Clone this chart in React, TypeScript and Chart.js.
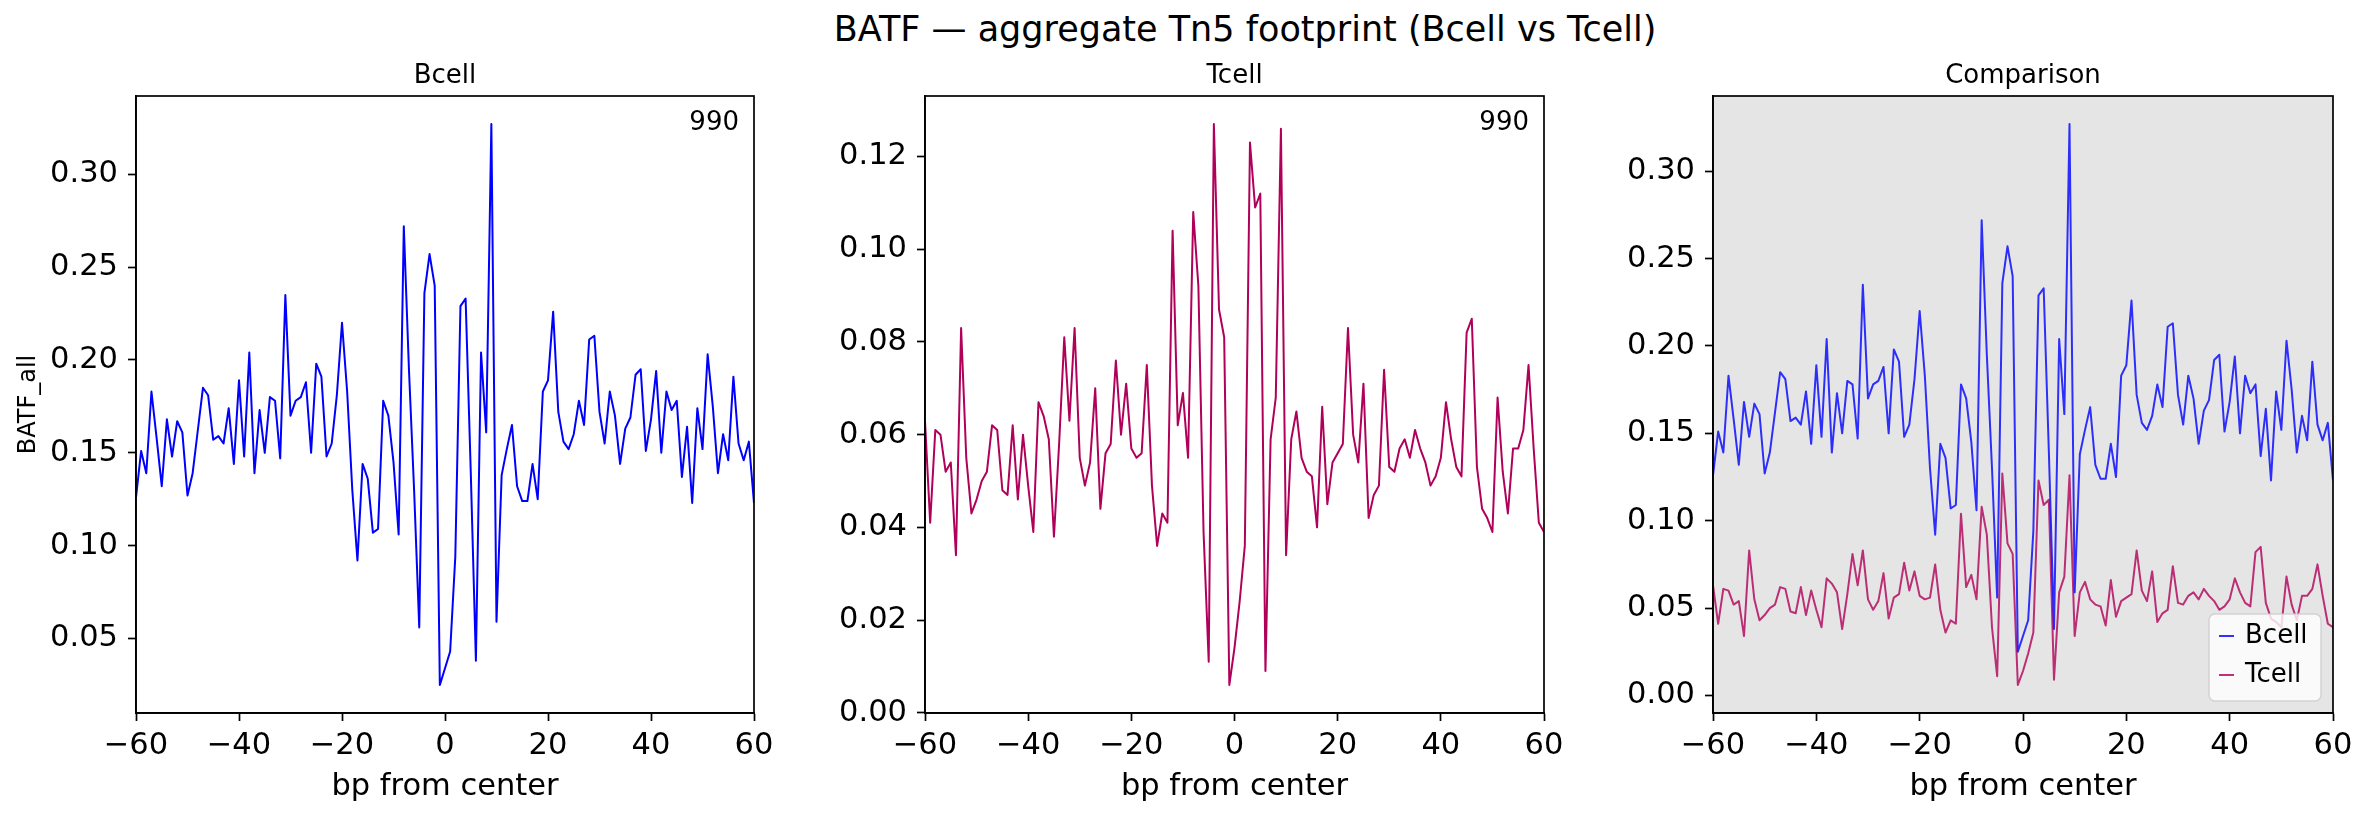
import React, { useEffect, useRef } from 'react';
import { Chart, registerables } from 'chart.js';

Chart.register(...registerables);

// bp offsets from the motif center
const bpFromCenter = Array.from({ length: 121 }, (_, i) => i - 60);

// aggregate Tn5 insertion profile (-60 .. +60)
const bcellValues = [
  0.126, 0.151, 0.139, 0.183, 0.158, 0.132, 0.168, 0.148, 0.167, 0.161,
  0.127, 0.139, 0.162, 0.185, 0.181, 0.157, 0.159, 0.155, 0.174, 0.144,
  0.189, 0.148, 0.204, 0.139, 0.173, 0.150, 0.180, 0.178, 0.147, 0.235,
  0.170, 0.178, 0.180, 0.188, 0.150, 0.198, 0.191, 0.148, 0.155, 0.181,
  0.220, 0.183, 0.130, 0.092, 0.144, 0.136, 0.107, 0.109, 0.178, 0.170,
  0.145, 0.106, 0.272, 0.195, 0.130, 0.056, 0.236, 0.257, 0.240, 0.025,
  0.034, 0.043, 0.094, 0.229, 0.233, 0.140, 0.038, 0.204, 0.161, 0.327,
  0.059, 0.138, 0.152, 0.165, 0.132, 0.124, 0.124, 0.144, 0.125, 0.183,
  0.189, 0.226, 0.172, 0.156, 0.152, 0.160, 0.178, 0.165, 0.211, 0.213,
  0.172, 0.155, 0.183, 0.170, 0.144, 0.163, 0.169, 0.192, 0.195, 0.151,
  0.168, 0.194, 0.150, 0.183, 0.173, 0.178, 0.137, 0.164, 0.123, 0.174,
  0.152, 0.203, 0.175, 0.139, 0.160, 0.146, 0.191, 0.155, 0.146, 0.156,
  0.123,
];

const tcellValues = [
  0.063, 0.041, 0.061, 0.060, 0.052, 0.054, 0.034, 0.083, 0.055, 0.043,
  0.046, 0.050, 0.052, 0.062, 0.061, 0.048, 0.047, 0.062, 0.046, 0.060,
  0.049, 0.039, 0.067, 0.064, 0.059, 0.038, 0.058, 0.081, 0.063, 0.083,
  0.055, 0.049, 0.054, 0.070, 0.044, 0.056, 0.058, 0.076, 0.060, 0.071,
  0.057, 0.055, 0.056, 0.075, 0.049, 0.036, 0.043, 0.041, 0.104, 0.062,
  0.069, 0.055, 0.108, 0.092, 0.039, 0.011, 0.127, 0.087, 0.081, 0.006,
  0.014, 0.024, 0.036, 0.123, 0.109, 0.112, 0.009, 0.059, 0.068, 0.126,
  0.034, 0.059, 0.065, 0.055, 0.052, 0.051, 0.040, 0.066, 0.045, 0.054,
  0.056, 0.058, 0.083, 0.060, 0.054, 0.071, 0.042, 0.047, 0.049, 0.074,
  0.053, 0.052, 0.057, 0.059, 0.055, 0.061, 0.057, 0.054, 0.049, 0.051,
  0.055, 0.067, 0.059, 0.053, 0.051, 0.082, 0.085, 0.053, 0.044, 0.042,
  0.039, 0.068, 0.052, 0.043, 0.057, 0.057, 0.061, 0.075, 0.057, 0.041,
  0.039,
];

const xTicks = [-60, -40, -20, 0, 20, 40, 60];
const bcellYTicks = [0.05, 0.1, 0.15, 0.2, 0.25, 0.3];
const tcellYTicks = [0, 0.02, 0.04, 0.06, 0.08, 0.1, 0.12];
const compareYTicks = [0, 0.05, 0.1, 0.15, 0.2, 0.25, 0.3];
const siteCount = '990';

const FONT = "'DejaVu Sans', sans-serif";
const FIG_W = 2369;
const FIG_H = 818;
const PLOT_TOP = 96;
const PLOT_BOTTOM = 713;
const TICK_SIZE = 30.5;
const TEXT_SIZE = 26;
const BLUE = '#0000ff';
const CRIMSON = '#b0005a';

type Series = { label: string; values: number[]; color: string };

type PanelProps = {
  left: number;
  width: number;
  plotLeft: number;
  plotRight: number;
  title: string;
  series: Series[];
  yTicks: number[];
  yLabel?: string;
  note?: string;
  legend?: boolean;
  background?: string;
};

const fmtX = (v: number) => (v < 0 ? '\u2212' + Math.abs(v) : String(v));

function Panel(p: PanelProps) {
  const canvasRef = useRef<HTMLCanvasElement>(null);

  useEffect(() => {
    if (!canvasRef.current) return;

    const all = p.series.flatMap((s) => s.values);
    const lo = Math.min(...all);
    const hi = Math.max(...all);
    const margin = (hi - lo) * 0.05;

    const decor = {
      id: 'decor',
      beforeDraw(chart: any) {
        if (!p.background) return;
        const { ctx, chartArea: a } = chart;
        ctx.save();
        ctx.fillStyle = p.background;
        ctx.fillRect(a.left, a.top, a.right - a.left, a.bottom - a.top);
        ctx.restore();
      },
      afterDraw(chart: any) {
        const { ctx, chartArea: a } = chart;
        ctx.save();
        ctx.strokeStyle = '#000';
        ctx.lineWidth = 1.7;
        ctx.strokeRect(a.left, a.top, a.right - a.left, a.bottom - a.top);

        ctx.fillStyle = '#000';
        ctx.font = `${TEXT_SIZE}px ${FONT}`;
        ctx.textBaseline = 'alphabetic';
        ctx.textAlign = 'center';
        ctx.fillText(p.title, (a.left + a.right) / 2, a.top - 13);

        if (p.note) {
          ctx.textAlign = 'right';
          ctx.fillText(p.note, a.right - 15, a.top + 34);
        }

        if (p.legend) {
          const w = 112;
          const h = 87;
          const x0 = a.right - 12 - w;
          const y0 = a.bottom - 12 - h;
          ctx.beginPath();
          ctx.roundRect(x0, y0, w, h, 6);
          ctx.fillStyle = 'rgba(255,255,255,0.8)';
          ctx.fill();
          ctx.strokeStyle = 'rgba(204,204,204,0.8)';
          ctx.lineWidth = 1.5;
          ctx.stroke();
          ctx.textAlign = 'left';
          ctx.textBaseline = 'middle';
          p.series.forEach((s, i) => {
            const cy = y0 + 22 + i * 39;
            ctx.beginPath();
            ctx.moveTo(x0 + 10, cy);
            ctx.lineTo(x0 + 25, cy);
            ctx.strokeStyle = s.color;
            ctx.globalAlpha = 0.8;
            ctx.lineWidth = 2;
            ctx.stroke();
            ctx.globalAlpha = 1;
            ctx.fillStyle = '#000';
            ctx.fillText(s.label, x0 + 36, cy);
          });
        }
        ctx.restore();
      },
    };

    const faded = p.series.length > 1;

    const chart = new Chart(canvasRef.current, {
      type: 'line',
      data: {
        datasets: p.series.map((s) => ({
          label: s.label,
          data: bpFromCenter.map((x, i) => ({ x, y: s.values[i] })),
          borderColor: faded ? s.color + 'cc' : s.color,
          borderWidth: 2,
          pointRadius: 0,
          tension: 0,
          borderJoinStyle: 'round' as const,
          fill: false,
        })),
      },
      options: {
        animation: false,
        responsive: false,
        devicePixelRatio: 1,
        layout: {
          padding: { top: PLOT_TOP, right: p.left + p.width - p.plotRight, left: 0, bottom: 0 },
        },
        plugins: {
          legend: { display: false },
          tooltip: { enabled: false },
          title: { display: false },
        },
        scales: {
          x: {
            type: 'linear',
            min: -60,
            max: 60,
            afterBuildTicks: (s: any) => {
              s.ticks = xTicks.map((value) => ({ value }));
            },
            afterFit: (s: any) => {
              s.height = FIG_H - PLOT_BOTTOM;
            },
            ticks: {
              font: { family: FONT, size: TICK_SIZE },
              color: '#000',
              padding: 7,
              maxRotation: 0,
              autoSkip: false,
              callback: (v: any) => fmtX(Number(v)),
            },
            grid: { drawOnChartArea: false, drawTicks: true, tickLength: 8, tickColor: '#000', tickWidth: 1.7 },
            border: { display: true, color: '#000', width: 1.7 },
            title: {
              display: true,
              text: 'bp from center',
              font: { family: FONT, size: TICK_SIZE },
              color: '#000',
              padding: { top: 0, bottom: 13 },
            },
          },
          y: {
            type: 'linear',
            min: lo - margin,
            max: hi + margin,
            afterBuildTicks: (s: any) => {
              s.ticks = p.yTicks.map((value) => ({ value }));
            },
            afterFit: (s: any) => {
              s.width = p.plotLeft - p.left;
            },
            ticks: {
              font: { family: FONT, size: TICK_SIZE },
              color: '#000',
              padding: 10,
              autoSkip: false,
              callback: (v: any) => Number(v).toFixed(2),
            },
            grid: { drawOnChartArea: false, drawTicks: true, tickLength: 8, tickColor: '#000', tickWidth: 1.7 },
            border: { display: true, color: '#000', width: 1.7 },
            title: {
              display: !!p.yLabel,
              text: p.yLabel || '',
              font: { family: FONT, size: 24 },
              color: '#000',
              padding: { top: 14, bottom: 0 },
            },
          },
        },
      },
      plugins: [decor],
    });

    return () => {
      chart.destroy();
    };
  }, []);

  return (
    <canvas
      ref={canvasRef}
      width={p.width}
      height={FIG_H}
      style={{ position: 'absolute', left: p.left, top: 0, width: p.width, height: FIG_H }}
    />
  );
}

export default function App() {
  return (
    <div
      style={{
        position: 'absolute',
        left: 0,
        top: 0,
        width: FIG_W,
        height: FIG_H,
        background: '#fff',
        overflow: 'hidden',
      }}
    >
      <div
        style={{
          position: 'absolute',
          left: 0,
          top: 9,
          width: 2490,
          textAlign: 'center',
          font: `35px ${FONT}`,
          lineHeight: '40px',
          color: '#000',
          whiteSpace: 'nowrap',
        }}
      >
        BATF — aggregate Tn5 footprint (Bcell vs Tcell)
      </div>
      <Panel
        left={0}
        width={790}
        plotLeft={136}
        plotRight={754}
        title="Bcell"
        yLabel="BATF_all"
        note={siteCount}
        yTicks={bcellYTicks}
        series={[{ label: 'Bcell', values: bcellValues, color: BLUE }]}
      />
      <Panel
        left={790}
        width={789}
        plotLeft={925}
        plotRight={1544}
        title="Tcell"
        note={siteCount}
        yTicks={tcellYTicks}
        series={[{ label: 'Tcell', values: tcellValues, color: CRIMSON }]}
      />
      <Panel
        left={1579}
        width={790}
        plotLeft={1713}
        plotRight={2333}
        title="Comparison"
        legend
        background="#e5e5e5"
        yTicks={compareYTicks}
        series={[
          { label: 'Bcell', values: bcellValues, color: BLUE },
          { label: 'Tcell', values: tcellValues, color: CRIMSON },
        ]}
      />
    </div>
  );
}
